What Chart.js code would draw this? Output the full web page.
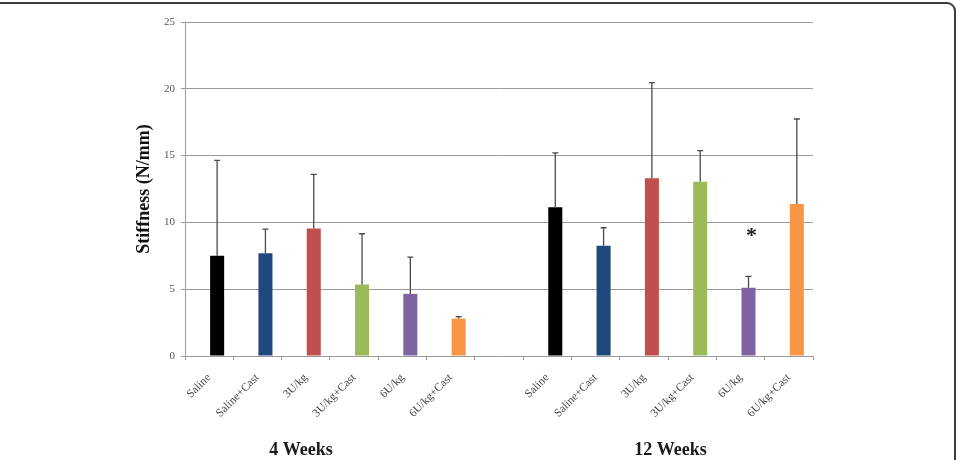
<!DOCTYPE html>
<html>
<head>
<meta charset="utf-8">
<script src="https://cdn.jsdelivr.net/npm/chart.js@4/dist/chart.umd.min.js"></script>
<style>
  html, body { margin: 0; padding: 0; background: #fff; overflow: hidden; }
  #wrap { position: relative; width: 957px; height: 460px; overflow: hidden; }
  #frame { position: absolute; top: 2px; right: 1px; left: -20px; height: 600px;
           border: 2px solid #3c3c3c; border-radius: 9px; pointer-events: none; }
  canvas { position: absolute; left: 0; top: 0; }
</style>
</head>
<body>
<div id="wrap">
  <canvas id="c" width="957" height="460"></canvas>
  <div id="frame"></div>
</div>
<script>
// ---- data ----
const groups = ['4 Weeks', '12 Weeks'];
const treatments = ['Saline', 'Saline+Cast', '3U/kg', '3U/kg+Cast', '6U/kg', '6U/kg+Cast'];
const barColors = ['#000000', '#1F497D', '#C0504D', '#9BBB59', '#8064A2', '#F79646'];

const mean4wk  = [7.5, 7.7, 9.55, 5.35, 4.65, 2.8];
const sd4wk    = [7.15, 1.8, 4.05, 3.8, 2.75, 0.15];
const mean12wk = [11.13, 8.26, 13.3, 13.05, 5.11, 11.38];
const sd12wk   = [4.07, 1.34, 7.16, 2.32, 0.85, 6.36];
const signif12wk = ['', '', '', '', '*', ''];

const yTicks = [0, 5, 10, 15, 20, 25];

// spacer series (empty, as in the original spreadsheet chart)
const spacer = [null, null, null, null, null, null, null, null, null, null, null, null, null];

// ---- build category axis: group 1, gap, group 2 ----
const labels = [...treatments, '', ...treatments];
const values = [...mean4wk, null, ...mean12wk];
const errors = [...sd4wk, null, ...sd12wk];
const colors = [...barColors, 'rgba(0,0,0,0)', ...barColors];
const marks = [...treatments.map(() => ''), '', ...signif12wk];

const SERIF = '"Liberation Serif", "DejaVu Serif", serif';

const errorBarPlugin = {
  id: 'errorBars',
  afterDatasetsDraw(chart) {
    const ctx = chart.ctx;
    const meta = chart.getDatasetMeta(1);
    const y = chart.scales.y;
    ctx.save();
    ctx.strokeStyle = '#4a4a4a';
    ctx.lineWidth = 1.3;
    meta.data.forEach((bar, i) => {
      if (values[i] == null) return;
      const top = y.getPixelForValue(values[i] + errors[i]);
      const base = y.getPixelForValue(values[i]);
      ctx.beginPath();
      ctx.moveTo(bar.x, base);
      ctx.lineTo(bar.x, top);
      ctx.moveTo(bar.x - 3, top);
      ctx.lineTo(bar.x + 3, top);
      ctx.stroke();
      if (marks[i]) {
        ctx.fillStyle = '#222';
        ctx.font = 'bold 22px ' + SERIF;
        ctx.textAlign = 'center';
        ctx.textBaseline = 'middle';
        ctx.fillText(marks[i], bar.x + 3, top - 40);
      }
    });
    ctx.restore();
  }
};

const groupLabelPlugin = {
  id: 'groupLabels',
  afterDraw(chart) {
    const ctx = chart.ctx;
    const x = chart.scales.x;
    const pos = [1.9, 9.55];
    ctx.save();
    ctx.fillStyle = '#1a1a1a';
    ctx.font = 'bold 18px ' + SERIF;
    ctx.textAlign = 'center';
    ctx.textBaseline = 'middle';
    groups.forEach((g, k) => ctx.fillText(g, x.getPixelForValue(pos[k]), 450));
    ctx.restore();
  }
};

new Chart(document.getElementById('c'), {
  type: 'bar',
  data: {
    labels: labels,
    datasets: [
      { label: 'spacer', data: spacer, backgroundColor: 'rgba(0,0,0,0)',
        categoryPercentage: 0.66, barPercentage: 0.88 },
      { label: 'Stiffness', data: values, backgroundColor: colors,
        categoryPercentage: 0.66, barPercentage: 0.88 }
    ]
  },
  options: {
    responsive: false,
    animation: false,
    events: [],
    layout: { padding: { left: 0, right: 144, top: 22, bottom: 0 } },
    plugins: { legend: { display: false }, tooltip: { enabled: false } },
    scales: {
      x: {
        grid: { display: true, offset: true, drawOnChartArea: false, tickLength: 4,
                color: '#9a9a9a', lineWidth: 1 },
        border: { display: true, color: '#9a9a9a', width: 1 },
        ticks: { minRotation: 45, maxRotation: 45, autoSkip: false, padding: 11,
                 color: '#444', font: { family: SERIF, size: 11.5 } },
        afterFit(s) { s.height = 104; }
      },
      y: {
        min: 0, max: 25,
        afterBuildTicks(s) { s.ticks = yTicks.map(v => ({ value: v })); },
        grid: { color: '#9a9a9a', lineWidth: 1, tickLength: 4 },
        border: { display: true, color: '#9a9a9a', width: 1 },
        ticks: { padding: 6, color: '#555', font: { family: SERIF, size: 11 } },
        title: { display: true, text: 'Stiffness (N/mm)', color: '#111',
                 font: { family: SERIF, size: 18, weight: 'bold' },
                 padding: { top: 134, bottom: 0 } },
        afterFit(s) { s.width = 185; }
      }
    }
  },
  plugins: [errorBarPlugin, groupLabelPlugin]
});
</script>
</body>
</html>
